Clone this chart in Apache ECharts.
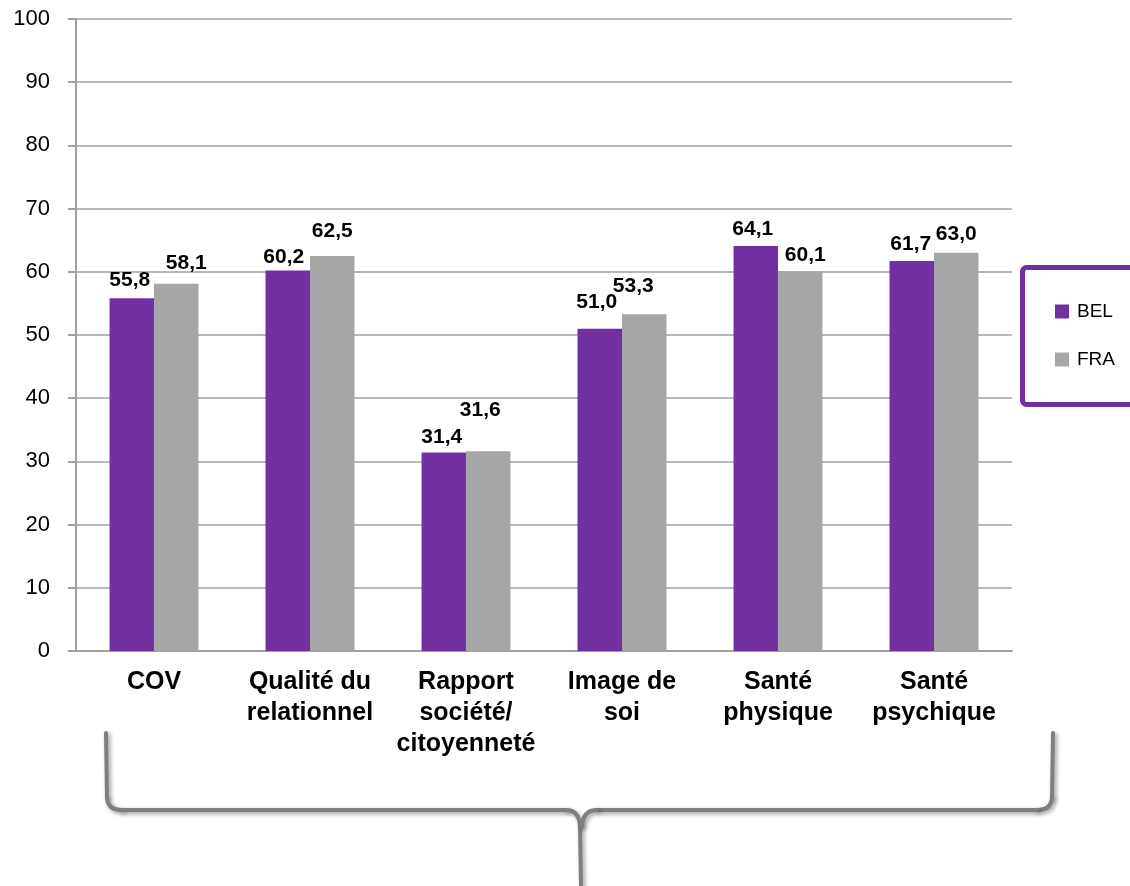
<!DOCTYPE html>
<html>
<head>
<meta charset="utf-8">
<title>COV – BEL / FRA</title>
<script src="https://cdn.jsdelivr.net/npm/echarts@6/dist/echarts.min.js"></script>
<style>
  html, body { margin: 0; padding: 0; background: #ffffff; }
  #chart { width: 1130px; height: 886px; }
</style>
</head>
<body>
<div id="chart"></div>
<script>
// Domains (x axis)
const categories = [
  'COV',
  'Qualité du\nrelationnel',
  'Rapport\nsociété/\ncitoyenneté',
  'Image de\nsoi',
  'Santé\nphysique',
  'Santé\npsychique'
];

// Scores per country
const belValues = [55.8, 60.2, 31.4, 51.0, 64.1, 61.7];
const fraValues = [58.1, 62.5, 31.6, 53.3, 60.1, 63.0];

const seriesNames = ['BEL', 'FRA'];

// Value axis
const yMin = 0;
const yMax = 100;
const yStep = 10;

// Hand-placed value labels: [dx, dy] nudges per bar
const belLabelNudge = [[-2, -3], [-4, 2], [-2, 0], [-3, -11], [-3, -1], [-1, -1]];
const fraLabelNudge = [[10, -5], [0, -9], [-8, -26], [-11, -12], [5, 0], [0, -3]];

const PURPLE = '#7030a0';
const GREY = '#a6a6a6';
const AXIS_GREY = '#a0a0a0';
const BRACE_GREY = '#7f7f7f';

function fmt(v) {
  return v.toFixed(1).replace('.', ',');
}

function buildData(values, nudges) {
  return values.map((v, i) => ({
    value: v,
    label: { offset: nudges[i] }
  }));
}

const labelStyle = {
  show: true,
  position: 'top',
  distance: 5,
  color: '#000000',
  fontFamily: 'Liberation Sans, Arial, sans-serif',
  fontWeight: 'bold',
  fontSize: 21,
  formatter: p => fmt(p.value)
};

// Curly brace grouping all the domains, built from straight and curved pieces
const braceStyle = {
  fill: 'none',
  stroke: BRACE_GREY,
  lineWidth: 4,
  lineCap: 'round',
  shadowBlur: 4,
  shadowOffsetX: 2,
  shadowOffsetY: 2,
  shadowColor: 'rgba(0,0,0,0.4)'
};
function seg(x1, y1, x2, y2) {
  return { type: 'line', shape: { x1, y1, x2, y2 }, style: braceStyle, z: 1 };
}
function curve(x1, y1, cx, cy, x2, y2) {
  return { type: 'bezierCurve', shape: { x1, y1, cpx1: cx, cpy1: cy, x2, y2 }, style: braceStyle, z: 1 };
}
const brace = [
  seg(106, 733, 107, 798),
  curve(107, 798, 108, 810, 122, 810),
  seg(122, 810, 566, 810),
  curve(566, 810, 579, 810, 580, 826),
  seg(580, 826, 581, 886),
  seg(1053, 733, 1052, 798),
  curve(1052, 798, 1051, 810, 1037, 810),
  seg(1037, 810, 597, 810),
  curve(597, 810, 583, 810, 582, 826)
];

const chart = echarts.init(document.getElementById('chart'), null, { renderer: 'canvas' });

chart.setOption({
  backgroundColor: '#ffffff',
  animation: false,
  grid: { left: 76, right: 118, top: 19, bottom: 235, containLabel: false },
  legend: {
    orient: 'vertical',
    left: 1055,
    top: 302,
    itemWidth: 14,
    itemHeight: 14,
    itemGap: 29,
    icon: 'rect',
    padding: 0,
    textStyle: {
      fontFamily: 'Liberation Sans, Arial, sans-serif',
      fontSize: 19,
      color: '#000000',
      padding: [0, 0, 0, 3]
    },
    data: seriesNames
  },
  xAxis: {
    type: 'category',
    data: categories,
    axisLine: { show: true, lineStyle: { color: AXIS_GREY, width: 2 } },
    axisTick: { show: false },
    axisLabel: {
      interval: 0,
      margin: 16,
      color: '#000000',
      fontFamily: 'Liberation Sans, Arial, sans-serif',
      fontWeight: 'bold',
      fontSize: 25,
      lineHeight: 31
    }
  },
  yAxis: {
    type: 'value',
    min: yMin,
    max: yMax,
    interval: yStep,
    axisLine: { show: true, lineStyle: { color: AXIS_GREY, width: 2 } },
    axisTick: { show: true, length: 8, inside: false, lineStyle: { color: AXIS_GREY, width: 2 } },
    splitLine: { show: true, lineStyle: { color: AXIS_GREY, width: 1.5 } },
    axisLabel: {
      margin: 26,
      color: '#000000',
      fontFamily: 'Liberation Sans, Arial, sans-serif',
      fontSize: 22
    }
  },
  series: [
    {
      name: seriesNames[0],
      type: 'bar',
      barGap: '0%',
      barCategoryGap: '43%',
      itemStyle: { color: PURPLE },
      label: labelStyle,
      data: buildData(belValues, belLabelNudge),
      z: 3
    },
    {
      name: seriesNames[1],
      type: 'bar',
      barGap: '0%',
      barCategoryGap: '43%',
      itemStyle: { color: GREY },
      label: labelStyle,
      data: buildData(fraValues, fraLabelNudge),
      z: 3
    }
  ],
  graphic: [
    // Legend frame
    {
      type: 'rect',
      shape: { x: 1022.5, y: 267.5, width: 140, height: 137, r: 4 },
      style: { fill: 'none', stroke: PURPLE, lineWidth: 5 },
      z: 1
    }
  ].concat(brace)
});
</script>
</body>
</html>
